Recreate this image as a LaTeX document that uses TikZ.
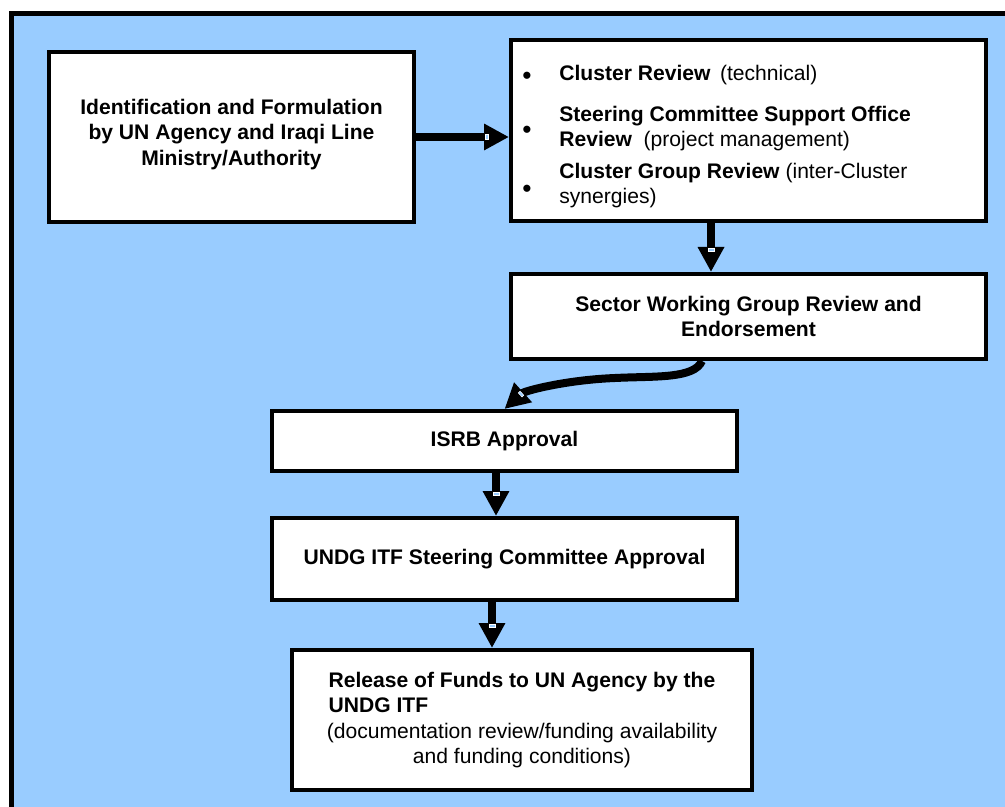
\documentclass[tikz,border=0pt]{standalone}
\usepackage{fontspec}
\setmainfont{Liberation Sans}
\usetikzlibrary{arrows.meta,decorations.markings}
\definecolor{panelblue}{HTML}{99CCFF}
\tikzset{
  stage/.style={draw, line width=0.8mm, fill=white, align=center, inner sep=0pt,
    font=\bfseries\fontsize{12}{14.5}\selectfont},
  flow/.style={line width=1.6mm, -{Triangle[width=5mm,length=5mm]},
    postaction={decorate, decoration={markings, mark=at position 1 with
      {\filldraw[fill=panelblue, draw=white, line width=0.1mm] (-4.7mm,-0.55mm) rectangle (-4.2mm,0.55mm);}}}},
  item/.style={anchor=north west, align=left, inner sep=0pt, font=\fontsize{12}{14.2}\selectfont},
  dot/.style={inner sep=0pt, font=\fontsize{15}{15}\selectfont}
}
\begin{document}
\begin{tikzpicture}[x=0.2mm, y=-0.2mm]
    \useasboundingbox (0,0) rectangle (1005,807);
    \fill[white] (0,0) rectangle (1005,807);
    \fill[panelblue] (11.5,13.5) rectangle (1005,807);
    \draw[line width=1mm] (11.5,807) |- (1005,13.5);

    \node[stage, minimum width=73mm, minimum height=34mm] (ident) at (231.5,137)
      {Identification and Formulation\\by UN Agency and Iraqi Line\\Ministry/Authority\\[-9pt]};
    \node[stage, minimum width=95mm, minimum height=36.2mm] (review) at (748.5,130.5) {};
    \node[stage, minimum width=95mm, minimum height=17mm] (sector) at (748.5,316.5)
      {Sector Working Group Review and\\Endorsement};
    \node[stage, minimum width=93mm, minimum height=12mm] (isrb) at (504.5,441) {ISRB Approval};
    \node[stage, minimum width=93mm, minimum height=16.4mm] (undg) at (504.5,559)
      {UNDG ITF Steering Committee Approval};
    \node[stage, minimum width=92mm, minimum height=28mm] (funds) at (522,720)
      {Release of Funds to UN Agency by the\\
       \rlap{UNDG ITF}\phantom{Release of Funds to UN Agency by the}\\
       \mdseries (documentation review/funding availability\\
       \mdseries and funding conditions)};

    \node[dot] (b1) at (527,78) {\textbullet};
    \node[dot] (b2) at (527,132) {\textbullet};
    \node[dot] (b3) at (527,191) {\textbullet};
    \node[item] (i1) at (559,65) {\textbf{Cluster Review}\hspace{0.45em}(technical)};
    \node[item] (i2) at (559,106) {\textbf{Steering Committee Support Office}\\
      \textbf{Review}\hspace{0.55em}(project management)};
    \node[item] (i3) at (559,162.5) {\textbf{Cluster Group Review} (inter-Cluster\\synergies)};

    \coordinate (sweep) at (615,378);
    \draw[flow] (ident.east) -- (ident.east -| review.west);
    \draw[flow] ([xshift=-7.5mm]review.south) -- ([xshift=-7.5mm]review.south |- sector.north);
    \draw[flow] ([xshift=-9.3mm]sector.south) .. controls +(-8,18) and +(40,-2) .. (sweep)
      .. controls +(-50,2) and +(20,-18) .. (isrb.north);
    \draw[flow] ([xshift=-1.7mm]isrb.south) -- ([xshift=-1.7mm]isrb.south |- undg.north);
    \draw[flow] ([xshift=-2.5mm]undg.south) -- ([xshift=-2.5mm]undg.south |- funds.north);
\end{tikzpicture}
\end{document}
